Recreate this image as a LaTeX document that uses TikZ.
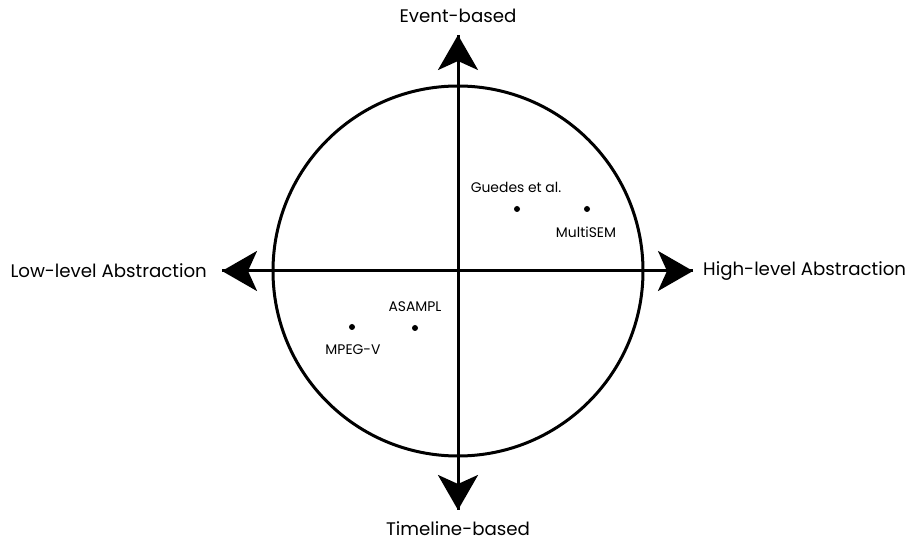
\documentclass[tikz,border=0pt]{standalone}
\usepackage{fontspec}
\setmainfont{Poppins}
\usetikzlibrary{arrows.meta}
\begin{document}
\begin{tikzpicture}[x=1pt,y=1pt,
  axis/.style={line width=3pt,-{Stealth[length=35pt,width=40pt,inset=9pt]}},
  ring/.style={line width=3pt},
  axlabel/.style={font=\fontsize{18.2}{21}\selectfont,inner sep=0pt},
  ptlabel/.style={font=\fontsize{13.9}{16}\selectfont,inner sep=0pt},
  pt/.style={circle,fill=black,inner sep=0pt,minimum size=6pt}]
\useasboundingbox (0,0) rectangle (913,543);
\coordinate (O) at (458,272);
\draw[ring] (O) circle (185);
\coordinate (T) at (458,508);
\coordinate (B) at (458,33);
\coordinate (L) at (222,272);
\coordinate (R) at (693,272);
\draw[axis] (B) -- (T);
\draw[axis] (T) -- (B);
\draw[axis] (R) -- (L);
\draw[axis] (L) -- (R);
\node[axlabel] (tl) at (458,527) {Event-based};
\node[axlabel] (bl) at (458,14) {Timeline-based};
\node[axlabel,anchor=east] (ll) at (207,272) {Low-level Abstraction};
\node[axlabel,anchor=west] (rl) at (703,272) {High-level Abstraction};
\node[pt] (g) at (517,334) {};
\node[pt] (m) at (587,334) {};
\node[pt] (a) at (415,215) {};
\node[pt] (v) at (352,216) {};
\node[ptlabel] (gl) at (516,356) {Guedes et al.};
\node[ptlabel] (ml) at (586,311) {MultiSEM};
\node[ptlabel] (al) at (415,236) {ASAMPL};
\node[ptlabel] (vl) at (353,193) {MPEG-V};
\end{tikzpicture}
\end{document}
